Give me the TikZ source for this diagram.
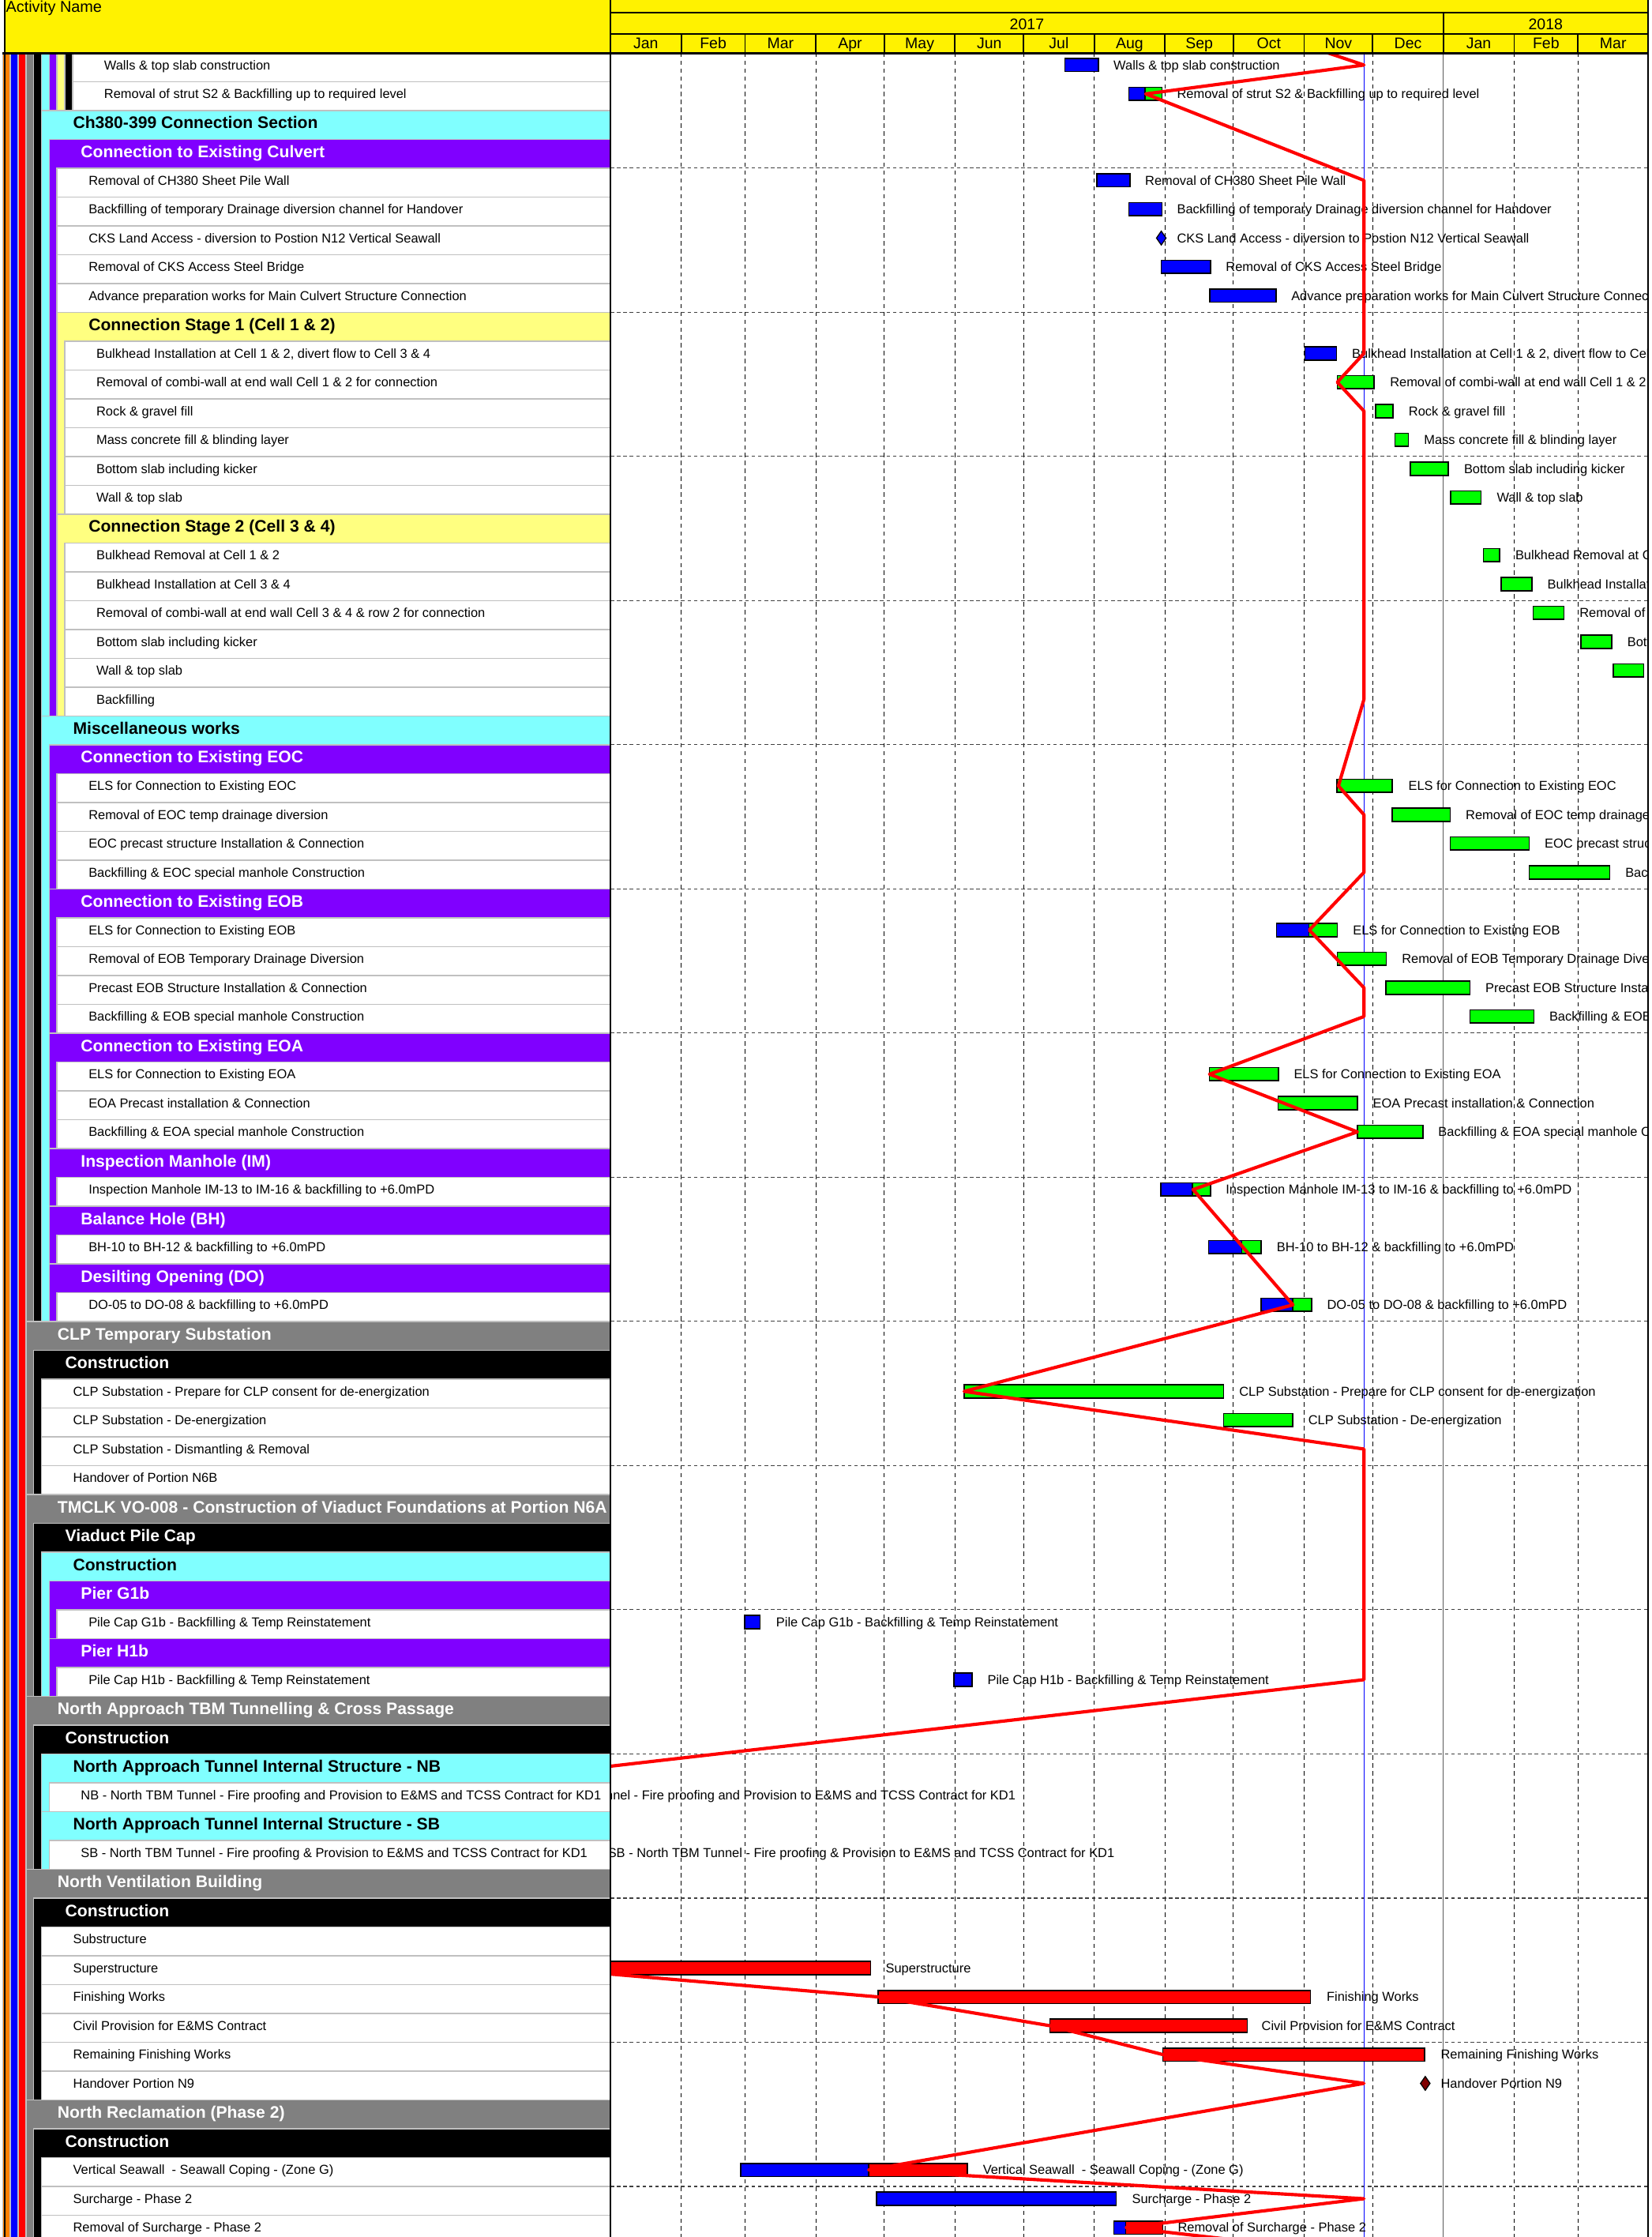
\documentclass[tikz,border=0pt]{standalone}
\usepackage{fontspec}
\setmainfont{Liberation Sans}
\usetikzlibrary{shapes.geometric}

\definecolor{wbsorange}{RGB}{255,128,0}
\definecolor{wbscyan}{RGB}{128,255,255}
\definecolor{wbspurple}{RGB}{128,0,255}
\definecolor{wbslyellow}{RGB}{255,255,128}
\definecolor{wbsgray}{RGB}{128,128,128}
\definecolor{sepgray}{RGB}{192,192,192}
\definecolor{milered}{RGB}{128,0,0}

% row geometry (y grows downwards)
\newcommand\rowtop[1]{37+20.21*(#1)}
\newcommand\rowmid[1]{45.6+20.21*(#1)}
\newcommand\lvlx[1]{1.8+5.45*(#1-1)}

% coloured wbs band, no title (continues from above)
\newcommand\wbsstrip[4]{%
  \filldraw[wbsbox, fill=#4] ({\lvlx{#1}},{\rowtop{#2}}) rectangle (428,{\rowtop{#3+1}});}
% wbs band with its title row
\newcommand\wbsgroup[7]{%
  \filldraw[wbsbox, fill=#4] ({\lvlx{#1}},{\rowtop{#2}}) rectangle (428,{\rowtop{#3+1}});
  \node[headtext, text=#5] (#6) at ({\lvlx{#1}+22},{\rowmid{#2}+4.2}) {#7};}
% activity row
\newcommand\task[4]{%
  \filldraw[wbsbox, fill=white] ({\lvlx{#1}},{\rowtop{#2}}) rectangle (428,{\rowtop{#2+1}});
  \node[tasktext] (#3) at ({\lvlx{#1}+22},{\rowmid{#2}+3.3}) {#4};}
% bar and its label
\newcommand\ganttbar[4]{%
  \filldraw[barbox, fill=#4] (#2,{\rowmid{#1}-4.6}) rectangle (#3,{\rowmid{#1}+4.6});}
\newcommand\barlabel[4]{%
  \node[tasktext] (#3) at (#2,{\rowmid{#1}+3.3}) {#4};}

\begin{document}
\begin{tikzpicture}[x=1pt,y=-1pt,
    wbsbox/.style={draw=sepgray, line width=0.8pt},
    headtext/.style={anchor=base west, inner sep=0pt, font=\bfseries\fontsize{11.7}{13}\selectfont},
    tasktext/.style={anchor=base west, inner sep=0pt, font=\fontsize{9.1}{11}\selectfont},
    hdrtext/.style={anchor=base, inner sep=0pt, font=\fontsize{10.8}{12}\selectfont},
    barbox/.style={draw=black, line width=0.9pt},
    milestone/.style={diamond, draw=black, line width=0.7pt, inner sep=0pt, minimum width=7pt, minimum height=10pt},
    monthgrid/.style={line width=0.6pt, dash pattern=on 3pt off 2.5pt},
    rowgrid/.style={line width=0.6pt, black!75, dash pattern=on 2.5pt off 2pt},
    progress/.style={red, line width=2.3pt, line join=round}]
\useasboundingbox (0,0) rectangle (1158,1568);

% ---- activity column ----
\begin{scope}
\clip (0,37) rectangle (428,1568);
\wbsstrip{1}{-2}{80}{wbsorange}
\wbsstrip{2}{-2}{80}{blue}
\wbsstrip{3}{-2}{80}{red}
\wbsstrip{4}{-2}{43}{wbsgray}
\wbsgroup{4}{44}{49}{wbsgray}{white}{clp}{CLP Temporary Substation}
\wbsgroup{4}{50}{56}{wbsgray}{white}{vo8}{TMCLK VO-008 - Construction of Viaduct Foundations at Portion N6A}
\wbsgroup{4}{57}{62}{wbsgray}{white}{tbm}{North Approach TBM Tunnelling \& Cross Passage}
\wbsgroup{4}{63}{70}{wbsgray}{white}{nvb}{North Ventilation Building}
\wbsgroup{4}{71}{80}{wbsgray}{white}{nrec}{North Reclamation (Phase 2)}
\wbsstrip{5}{-2}{43}{black}
\wbsgroup{5}{45}{49}{black}{white}{clpcon}{Construction}
\wbsgroup{5}{51}{56}{black}{white}{pilecap}{Viaduct Pile Cap}
\wbsgroup{5}{58}{62}{black}{white}{tbmcon}{Construction}
\wbsgroup{5}{64}{70}{black}{white}{nvbcon}{Construction}
\wbsgroup{5}{72}{80}{black}{white}{reccon}{Construction}
\wbsstrip{6}{-2}{1}{wbscyan}
\wbsgroup{6}{2}{22}{wbscyan}{black}{ch380}{Ch380-399 Connection Section}
\wbsgroup{6}{23}{43}{wbscyan}{black}{misc}{Miscellaneous works}
\wbsgroup{6}{52}{56}{wbscyan}{black}{viacon}{Construction}
\wbsgroup{6}{59}{60}{wbscyan}{black}{natnb}{North Approach Tunnel Internal Structure - NB}
\wbsgroup{6}{61}{62}{wbscyan}{black}{natsb}{North Approach Tunnel Internal Structure - SB}
\wbsstrip{7}{-2}{1}{wbspurple}
\wbsgroup{7}{3}{22}{wbspurple}{white}{culvert}{Connection to Existing Culvert}
\wbsgroup{7}{24}{28}{wbspurple}{white}{eoc}{Connection to Existing EOC}
\wbsgroup{7}{29}{33}{wbspurple}{white}{eob}{Connection to Existing EOB}
\wbsgroup{7}{34}{37}{wbspurple}{white}{eoa}{Connection to Existing EOA}
\wbsgroup{7}{38}{39}{wbspurple}{white}{imh}{Inspection Manhole (IM)}
\wbsgroup{7}{40}{41}{wbspurple}{white}{bhole}{Balance Hole (BH)}
\wbsgroup{7}{42}{43}{wbspurple}{white}{dopen}{Desilting Opening (DO)}
\wbsgroup{7}{53}{54}{wbspurple}{white}{g1b}{Pier G1b}
\wbsgroup{7}{55}{56}{wbspurple}{white}{h1b}{Pier H1b}
\wbsstrip{8}{-2}{1}{wbslyellow}
\wbsgroup{8}{9}{15}{wbslyellow}{black}{stage1}{Connection Stage 1 (Cell 1 \& 2)}
\wbsgroup{8}{16}{22}{wbslyellow}{black}{stage2}{Connection Stage 2 (Cell 3 \& 4)}
\wbsstrip{9}{-2}{1}{black}
% activities
\task{10}{0}{a0}{Walls \& top slab construction}
\task{10}{1}{a1}{Removal of strut S2 \& Backfilling up to required level}
\task{8}{4}{a4}{Removal of CH380 Sheet Pile Wall}
\task{8}{5}{a5}{Backfilling of temporary Drainage diversion channel for Handover}
\task{8}{6}{a6}{CKS Land Access - diversion to Postion N12 Vertical Seawall}
\task{8}{7}{a7}{Removal of CKS Access Steel Bridge}
\task{8}{8}{a8}{Advance preparation works for Main Culvert Structure Connection}
\task{9}{10}{a10}{Bulkhead Installation at Cell 1 \& 2, divert flow to Cell 3 \& 4}
\task{9}{11}{a11}{Removal of combi-wall at end wall Cell 1 \& 2 for connection}
\task{9}{12}{a12}{Rock \& gravel fill}
\task{9}{13}{a13}{Mass concrete fill \& blinding layer}
\task{9}{14}{a14}{Bottom slab including kicker}
\task{9}{15}{a15}{Wall \& top slab}
\task{9}{17}{a17}{Bulkhead Removal at Cell 1 \& 2}
\task{9}{18}{a18}{Bulkhead Installation at Cell 3 \& 4}
\task{9}{19}{a19}{Removal of combi-wall at end wall Cell 3 \& 4 \& row 2 for connection}
\task{9}{20}{a20}{Bottom slab including kicker}
\task{9}{21}{a21}{Wall \& top slab}
\task{9}{22}{a22}{Backfilling}
\task{8}{25}{a25}{ELS for Connection to Existing EOC}
\task{8}{26}{a26}{Removal of EOC temp drainage diversion}
\task{8}{27}{a27}{EOC precast structure Installation \& Connection}
\task{8}{28}{a28}{Backfilling \& EOC special manhole Construction}
\task{8}{30}{a30}{ELS for Connection to Existing EOB}
\task{8}{31}{a31}{Removal of EOB Temporary Drainage Diversion}
\task{8}{32}{a32}{Precast EOB Structure Installation \& Connection}
\task{8}{33}{a33}{Backfilling \& EOB special manhole Construction}
\task{8}{35}{a35}{ELS for Connection to Existing EOA}
\task{8}{36}{a36}{EOA Precast installation \& Connection}
\task{8}{37}{a37}{Backfilling \& EOA special manhole Construction}
\task{8}{39}{a39}{Inspection Manhole IM-13 to IM-16 \& backfilling to +6.0mPD}
\task{8}{41}{a41}{BH-10 to BH-12 \& backfilling to +6.0mPD}
\task{8}{43}{a43}{DO-05 to DO-08 \& backfilling to +6.0mPD}
\task{6}{46}{a46}{CLP Substation - Prepare for CLP consent for de-energization}
\task{6}{47}{a47}{CLP Substation - De-energization}
\task{6}{48}{a48}{CLP Substation - Dismantling \& Removal}
\task{6}{49}{a49}{Handover of Portion N6B}
\task{8}{54}{a54}{Pile Cap G1b - Backfilling \& Temp Reinstatement}
\task{8}{56}{a56}{Pile Cap H1b - Backfilling \& Temp Reinstatement}
\task{7}{60}{a60}{NB - North TBM Tunnel - Fire proofing and Provision to E\&MS and TCSS Contract for KD1}
\task{7}{62}{a62}{SB - North TBM Tunnel - Fire proofing \& Provision to E\&MS and TCSS Contract for KD1}
\task{6}{65}{a65}{Substructure}
\task{6}{66}{a66}{Superstructure}
\task{6}{67}{a67}{Finishing Works}
\task{6}{68}{a68}{Civil Provision for E\&MS Contract}
\task{6}{69}{a69}{Remaining Finishing Works}
\task{6}{70}{a70}{Handover Portion N9}
\task{6}{73}{a73}{Vertical Seawall~ - Seawall Coping - (Zone G)}
\task{6}{74}{a74}{Surcharge - Phase 2}
\task{6}{75}{a75}{Removal of Surcharge - Phase 2}
\end{scope}

% ---- bar chart ----
\begin{scope}
\clip (428,37) rectangle (1155.5,1568);
\foreach \mx in {477.6,522.4,572,620,669.6,717.6,767.2,816.8,864.8,914.4,962.4,1061.6,1106.4}
  \draw[monthgrid] (\mx,37) -- (\mx,1568);
\draw[black!65, line width=0.7pt] (1012,37) -- (1012,1568);
\foreach \k in {0,...,14}
  \draw[rowgrid] (428,{\rowtop{4+5*\k}}) -- (1155.5,{\rowtop{4+5*\k}});
\draw[blue, line width=0.5pt] (956.3,37) -- (956.3,1568);

\ganttbar{0}{746.7}{770}{blue}
\ganttbar{1}{791.5}{802.7}{blue}
\ganttbar{1}{802.7}{814.7}{green}
\ganttbar{4}{769.1}{792.4}{blue}
\ganttbar{5}{791.5}{814.7}{blue}
\node[milestone, fill=blue] (ms6) at (814.2,{\rowmid{6}}) {};
\ganttbar{7}{814.2}{848.9}{blue}
\ganttbar{8}{848.1}{894.8}{blue}
\ganttbar{10}{915}{937.1}{blue}
\ganttbar{11}{937.7}{963.5}{green}
\ganttbar{12}{964.6}{976.6}{green}
\ganttbar{13}{978}{987.5}{green}
\ganttbar{14}{989}{1015.5}{green}
\ganttbar{15}{1017}{1038.5}{green}
\ganttbar{17}{1040}{1051.5}{green}
\ganttbar{18}{1052.5}{1074}{green}
\ganttbar{19}{1075}{1096.5}{green}
\ganttbar{20}{1108.5}{1130}{green}
\ganttbar{21}{1131}{1152.5}{green}
\ganttbar{25}{937.5}{976.2}{green}
\ganttbar{26}{976.2}{1016.8}{green}
\ganttbar{27}{1016.8}{1072.2}{green}
\ganttbar{28}{1072.2}{1128.7}{green}
\ganttbar{30}{895}{917.7}{blue}
\ganttbar{30}{917.7}{937.7}{green}
\ganttbar{31}{937.7}{972}{green}
\ganttbar{32}{971.8}{1030.6}{green}
\ganttbar{33}{1030.6}{1075.4}{green}
\ganttbar{35}{848}{896.3}{green}
\ganttbar{36}{896.2}{951.7}{green}
\ganttbar{37}{951.7}{997.6}{green}
\ganttbar{39}{814}{836.2}{blue}
\ganttbar{39}{836.2}{848.6}{green}
\ganttbar{41}{847.3}{870.7}{blue}
\ganttbar{41}{870.7}{884.2}{green}
\ganttbar{43}{884.3}{906.3}{blue}
\ganttbar{43}{906.3}{919.6}{green}
\ganttbar{46}{675.9}{858}{green}
\ganttbar{47}{858}{906.4}{green}
\ganttbar{54}{522}{533}{blue}
\ganttbar{56}{668.9}{681.5}{blue}
\ganttbar{66}{420}{610.4}{red}
\ganttbar{67}{615.6}{918.8}{red}
\ganttbar{68}{736.1}{874.6}{red}
\ganttbar{69}{815.2}{998.8}{red}
\node[milestone, fill=milered] (ms70) at (999.3,{\rowmid{70}}) {};
\ganttbar{73}{519.5}{609}{blue}
\ganttbar{73}{609}{678.2}{red}
\ganttbar{74}{614.6}{782.7}{blue}
\ganttbar{75}{780.9}{789.3}{blue}
\ganttbar{75}{789.3}{815.2}{red}

\barlabel{0}{780.6}{l0}{Walls \& top slab construction}
\barlabel{1}{825.1}{l1}{Removal of strut S2 \& Backfilling up to required level}
\barlabel{4}{802.7}{l4}{Removal of CH380 Sheet Pile Wall}
\barlabel{5}{825.1}{l5}{Backfilling of temporary Drainage diversion channel for Handover}
\barlabel{6}{825.1}{l6}{CKS Land Access - diversion to Postion N12 Vertical Seawall}
\barlabel{7}{859.3}{l7}{Removal of CKS Access Steel Bridge}
\barlabel{8}{905.2}{l8}{Advance preparation works for Main Culvert Structure Connection}
\barlabel{10}{947.8}{l10}{Bulkhead Installation at Cell 1 \& 2, divert flow to Cell 3 \& 4}
\barlabel{11}{974.4}{l11}{Removal of combi-wall at end wall Cell 1 \& 2 for connection}
\barlabel{12}{987.5}{l12}{Rock \& gravel fill}
\barlabel{13}{998.3}{l13}{Mass concrete fill \& blinding layer}
\barlabel{14}{1026.3}{l14}{Bottom slab including kicker}
\barlabel{15}{1049.3}{l15}{Wall \& top slab}
\barlabel{17}{1062.3}{l17}{Bulkhead Removal at Cell 1 \& 2}
\barlabel{18}{1084.8}{l18}{Bulkhead Installation at Cell 3 \& 4}
\barlabel{19}{1107.3}{l19}{Removal of combi-wall at end wall Cell 3 \& 4 \& row 2 for connection}
\barlabel{20}{1140.8}{l20}{Bottom slab including kicker}
\barlabel{25}{987.3}{l25}{ELS for Connection to Existing EOC}
\barlabel{26}{1027.5}{l26}{Removal of EOC temp drainage diversion}
\barlabel{27}{1082.9}{l27}{EOC precast structure Installation \& Connection}
\barlabel{28}{1139.4}{l28}{Backfilling \& EOC special manhole Construction}
\barlabel{30}{948.4}{l30}{ELS for Connection to Existing EOB}
\barlabel{31}{982.7}{l31}{Removal of EOB Temporary Drainage Diversion}
\barlabel{32}{1041.3}{l32}{Precast EOB Structure Installation \& Connection}
\barlabel{33}{1086.1}{l33}{Backfilling \& EOB special manhole Construction}
\barlabel{35}{907}{l35}{ELS for Connection to Existing EOA}
\barlabel{36}{962.4}{l36}{EOA Precast installation \& Connection}
\barlabel{37}{1008.3}{l37}{Backfilling \& EOA special manhole Construction}
\barlabel{39}{859.3}{l39}{Inspection Manhole IM-13 to IM-16 \& backfilling to +6.0mPD}
\barlabel{41}{895}{l41}{BH-10 to BH-12 \& backfilling to +6.0mPD}
\barlabel{43}{930.3}{l43}{DO-05 to DO-08 \& backfilling to +6.0mPD}
\barlabel{46}{868.7}{l46}{CLP Substation - Prepare for CLP consent for de-energization}
\barlabel{47}{917.1}{l47}{CLP Substation - De-energization}
\barlabel{54}{544}{l54}{Pile Cap G1b - Backfilling \& Temp Reinstatement}
\barlabel{56}{692.2}{l56}{Pile Cap H1b - Backfilling \& Temp Reinstatement}
\barlabel{60}{347}{l60}{NB - North TBM Tunnel - Fire proofing and Provision to E\&MS and TCSS Contract for KD1}
\barlabel{62}{426}{l62}{SB - North TBM Tunnel - Fire proofing \& Provision to E\&MS and TCSS Contract for KD1}
\barlabel{65}{377}{l65}{Substructure}
\barlabel{66}{620.8}{l66}{Superstructure}
\barlabel{67}{930}{l67}{Finishing Works}
\barlabel{68}{884.4}{l68}{Civil Provision for E\&MS Contract}
\barlabel{69}{1010}{l69}{Remaining Finishing Works}
\barlabel{70}{1010}{l70}{Handover Portion N9}
\barlabel{73}{689}{l73}{Vertical Seawall~ - Seawall Coping - (Zone G)}
\barlabel{74}{793.5}{l74}{Surcharge - Phase 2}
\barlabel{75}{825.6}{l75}{Removal of Surcharge - Phase 2}

% progress line
\draw[progress] (919,33) -- (956.3,{\rowmid{0}}) -- (803.3,{\rowmid{1}})
  -- (956.3,{\rowmid{4}}) -- (956.3,{\rowmid{10}}) -- (937.6,{\rowmid{11}})
  -- (956.3,{\rowmid{12}}) -- (956.3,{\rowmid{22}}) -- (938.4,{\rowmid{25}})
  -- (956.3,{\rowmid{26}}) -- (956.3,{\rowmid{28}}) -- (918,{\rowmid{30}})
  -- (956.3,{\rowmid{32}}) -- (956.3,{\rowmid{33}}) -- (848,{\rowmid{35}})
  -- (951.7,{\rowmid{37}}) -- (836.5,{\rowmid{39}}) -- (906.5,{\rowmid{43}})
  -- (676,{\rowmid{46}}) -- (956.3,{\rowmid{48}}) -- (956.3,{\rowmid{56}})
  -- (380,1243.5) -- (380,1379.6) -- (615.5,{\rowmid{67}})
  -- (736.1,{\rowmid{68}}) -- (815.2,{\rowmid{69}}) -- (956.3,{\rowmid{70}})
  -- (609,{\rowmid{73}}) -- (956.3,{\rowmid{74}}) -- (789.5,{\rowmid{75}})
  -- (909,1575);
\end{scope}

% ---- header ----
\fill[yellow] (3.2,0) rectangle (1155.5,37);
\node[anchor=base west, inner sep=0pt, font=\fontsize{11}{12}\selectfont] (actname) at (4,8.5) {Activity Name};
\draw[line width=1pt] (428,8.8) -- (1155.5,8.8) (428,23.6) -- (1155.5,23.6);
\draw[line width=1pt] (1012,8.8) -- (1012,37);
\foreach \mx in {477.6,522.4,572,620,669.6,717.6,767.2,816.8,864.8,914.4,962.4,1061.6,1106.4}
  \draw[line width=1pt] (\mx,23.6) -- (\mx,37);
\node[hdrtext] (y2017) at (720,20.5) {2017};
\node[hdrtext] (y2018) at (1083.7,20.5) {2018};
\foreach \m/\c [count=\i] in {Jan/452.8,Feb/500,Mar/547.2,Apr/596,May/644.8,Jun/693.6,Jul/742.4,Aug/792,Sep/840.8,Oct/889.6,Nov/938.4,Dec/987.2,Jan/1036.8,Feb/1084,Mar/1131}
  \node[hdrtext] (mon\i) at (\c,33.8) {\m};
\draw[line width=0.9pt] (3.2,0) -- (3.2,1568);
\draw[line width=1.2pt] (428,0) -- (428,1568);
\draw[line width=1.2pt] (1155.5,0) -- (1155.5,1568);
\draw[line width=1.6pt] (1.8,37.3) -- (1155.5,37.3);
\end{tikzpicture}
\end{document}
